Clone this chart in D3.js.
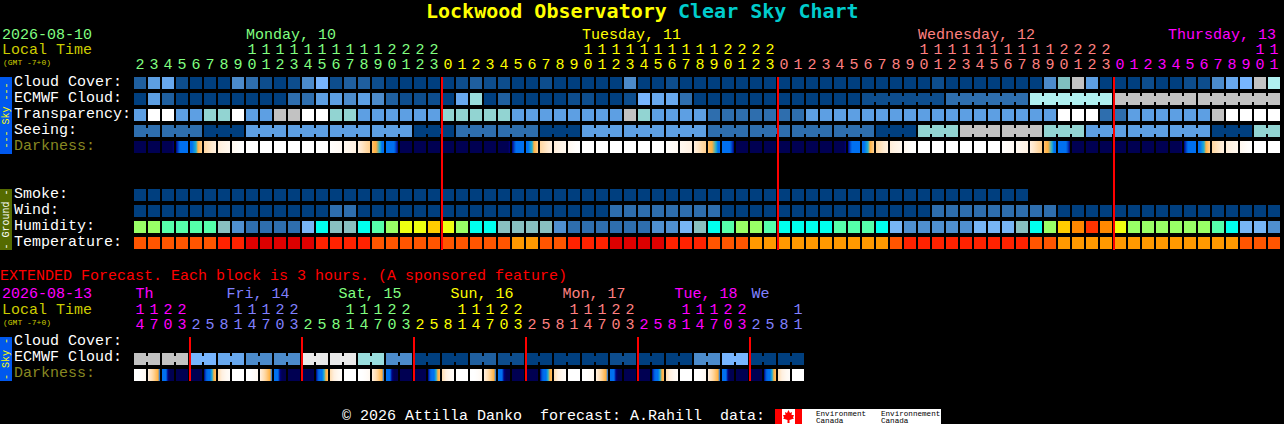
<!DOCTYPE html>
<html>
<head>
<meta charset="utf-8">
<title>Lockwood Observatory Clear Sky Chart</title>
<script src="https://cdn.jsdelivr.net/npm/d3@7"></script>
<style>
  html, body { margin: 0; padding: 0; background: #000; overflow: hidden; }
  svg { display: block; }
  text { font-family: "Liberation Mono", "DejaVu Sans Mono", monospace; font-size: 15px; white-space: pre; }
  text.title { font-family: "DejaVu Sans Mono", monospace; font-weight: bold; }
</style>
</head>
<body>
<div id="chart"></div>
<script>
'use strict';

// hourly table, one entry per block
var hourLabels = [2,3,4,5,6,7,8,9,10,11,12,13,14,15,16,17,18,19,20,21,22,23,
  0,1,2,3,4,5,6,7,8,9,10,11,12,13,14,15,16,17,18,19,20,21,22,23,
  0,1,2,3,4,5,6,7,8,9,10,11,12,13,14,15,16,17,18,19,20,21,22,23,
  0,1,2,3,4,5,6,7,8,9,10,11];
var hourDays = [0,0,0,0,0,0,0,0,0,0,0,0,0,0,0,0,0,0,0,0,0,0,
  1,1,1,1,1,1,1,1,1,1,1,1,1,1,1,1,1,1,1,1,1,1,1,1,
  2,2,2,2,2,2,2,2,2,2,2,2,2,2,2,2,2,2,2,2,2,2,2,2,
  3,3,3,3,3,3,3,3,3,3,3,3];
var dayNames = ['Monday, 10', 'Tuesday, 11', 'Wednesday, 12', 'Thursday, 13'];
var dayCols = [8, 32, 56, 73.85];
var dayColors = ['#80ff80', '#ffff00', '#ff8080', '#ff00ff'];
var midnightCols = [22, 46, 70];

// values are indexes into skyColors
var cloudCover = [2,5,14,1,0,0,0,4,3,1, 0,1,4,6,1,2,2,1,0,0, 0,0,0,1,2,1,1,0,0,1,
  0,0,0,0,0,4,0,0,1,0, 0,0,0,0,0,0,0,0,0,0, 0,0,0,0,0,0,0,1,0,0,
  0,0,0,0,0,4,11,8,5,0, 0,0,1,0,0,1,1,4,14,6, 8,12];
var ecmwfCloud = [0,5,2,0,0,0,0,0,0,0, 0,3,3,5,5,4,5,4,2,1, 1,1,0,14,7,0,2,0,0,0,
  0,1,1,0,0,1,6,14,14,3, 0,0,0,0,0,0,0,0,0,0, 0,0,1,1,1,1,1,1,3,3,
  3,3,3,3,12,12,12,12,12,12, 8,8,8,8,8,8,8,8,8,8, 8,8];
var ecmwfSpans = [[52,6],[58,6],[64,6],[70,6],[76,6]];
var transparency = [5,10,10,5,5,13,13,10,5,5, 8,8,10,10,13,13,5,5,5,5, 5,5,13,13,13,13,13,5,5,5,
  5,5,5,5,5,8,13,5,5,5, 5,3,3,3,3,3,3,3,5,5, 5,5,5,5,5,5,5,5,5,5,
  5,5,5,5,5,5,10,10,10,3, 3,5,5,5,5,5,5,8,10,10, 10,10];
var seeingLengths = [2,3,3,3,3,3,3,3,3,3,3,3,3,3,3,3,3,3,3,3,3,3,3,3,3,3,3,2];
var seeingLevels = [3,3,0,5,5,5,5,0,3,3,0,5,5,5,3,3,3,3,0,13,8,8,13,5,5,5,0,13];
var smoke = [0,0,0,0,0,0,0,0,0,0, 0,0,0,0,0,0,0,0,0,0, 0,0,0,0,0,0,0,0,0,0,
  0,0,0,0,0,0,0,0,0,0, 0,0,0,0,0,0,0,0,0,0, 0,0,0,0,0,0,0,0,0,0, 0,0,0,0];
var wind = [0,0,0,0,0,0,0,0,0,0, 0,0,0,0,3,3,0,0,0,0, 0,0,0,0,0,0,0,0,0,0,
  0,0,0,0,3,3,3,3,3,3, 3,3,0,0,0,0,0,0,0,0, 0,0,0,0,0,0,0,3,3,3,
  3,3,3,3,3,3,0,0,0,0, 0,0,0,0,0,0,0,0,0,0, 0,0];

var humidity = [0,0,1,1,1,1,2,3,4,4, 4,4,5,6,2,2,6,1,0,7, 7,8,7,0,6,6,2,2,2,2,
  3,4,4,4,4,4,4,3,3,5, 2,6,1,0,0,1,6,6,6,6, 1,1,1,6,5,3,3,3,3,3,
  5,5,5,2,6,0,8,9,10,9, 7,0,0,0,0,0,0,1,6,5, 5,3];
var temperature = [1,1,1,1,1,1,2,2,3,3, 3,3,3,2,2,2,2,1,1,1, 1,1,1,1,1,1,1,0,0,1,
  1,2,2,2,3,3,3,3,2,2, 2,1,1,1,0,0,0,0,0,0, 0,0,0,0,1,2,2,2,2,2,
  2,2,2,2,1,1,0,0,0,0, 0,0,0,0,0,0,0,0,0,1, 1,1];

// darkness of each block, read at points across it (0 = day ... 8 = night)
var darknessDay = [[8,8],[8,8],[8,8,8,8,8,8,7],[7,6,5,5,5,5,5],[5,5,4.5,4,3,2.5,2],[1.8,1.5,1.2,1],
  [1.1,.9,.7,.5],[.5,.3,.1,0],[0,0],[0,0],[0,0],[0,0],
  [0,0],[0,0],[.1,.2,.3,.4],[.5,.6,.8,.9],[1,1.3,1.7,2],[2.4,2.8,3,3.5,4,5,5],
  [5,5,5,5,5,6,7],[8,8],[8,8],[8,8],[8,8],[8,8]];
var darknessExtended = [[0,0,.2,.5],[1,1.3,1.6,2,2.5,3,5],[5,5,5,7,8,8,8],[8,8],
  [8,8],[7,5.5,5,5,4,3,2.6],[1.6,1,.5,.2],[0,0]];
var darknessStops = ['#ffffff', '#fff0e0', '#ffd090', '#ffb040', '#20b0d0',
  '#0070f0', '#0040c0', '#000080', '#000052'];

// extended forecast, one entry per 3 hour block
var extHours = [14,17,20,23, 2,5,8,11,14,17,20,23, 2,5,8,11,14,17,20,23, 2,5,8,11,14,17,20,23,
  2,5,8,11,14,17,20,23, 2,5,8,11,14,17,20,23, 2,5,8,11];
var extDays = [0,0,0,0, 1,1,1,1,1,1,1,1, 2,2,2,2,2,2,2,2, 3,3,3,3,3,3,3,3,
  4,4,4,4,4,4,4,4, 5,5,5,5,5,5,5,5, 6,6,6,6];
var extNames = ['Th', 'Fri, 14', 'Sat, 15', 'Sun, 16', 'Mon, 17', 'Tue, 18', 'We'];
var extCols = [0.1, 6.6, 14.6, 22.6, 30.6, 38.6, 44.1];
var extColors = ['#ff00ff', '#8080ff', '#80ff80', '#ffff00', '#ff8080', '#ff00ff', '#8080ff'];
var extMidnights = [4, 12, 20, 28, 36, 44];
var extEcmwfPairs = [8,8,6,14,4,4,9,9,7,4,0,0,2,1,0,0,0,1,0,0,4,6,0,0];

var skyColors = ['#003f7f','#0d4d8d','#1f5f9f','#2e6eae','#4c8bcb','#5d9fe3','#77b5fe',
  '#99dddd','#c2c2c2','#e9e9e9','#ffffff','#7fbfbf','#b0f0f0','#92d4d2','#68a8ee'];
var humidityColors = ['#99ff66','#55ffaa','#88c0c0','#4f8fcf','#2e6eae','#77b5f5','#00ffee',
  '#eeff11','#ffcc00','#ff8800','#ff3300'];
var temperatureColors = ['#ff9900','#ff5500','#ff2200','#dd0000'];

//---------------------------------------------------------------------------------------------------------------

var CELL = 12;
var colX = d3.scaleLinear().domain([0, 1]).range([134, 148]);
var rowY = d3.scaleLinear().domain([0, 1]).range([77, 93]);
var extRowY = d3.scaleLinear().domain([0, 1]).range([337, 353]);

var skyColor = d3.scaleOrdinal().domain(d3.range(skyColors.length)).range(skyColors);
var humidityColor = d3.scaleOrdinal().domain(d3.range(humidityColors.length)).range(humidityColors);
var temperatureColor = d3.scaleOrdinal().domain(d3.range(temperatureColors.length)).range(temperatureColors);
var darknessColor = d3.scaleLinear().domain(d3.range(darknessStops.length)).range(darknessStops);

var svg = d3.select('#chart').append('svg').attr('width', 1284).attr('height', 424);
svg.append('rect').attr('width', 1284).attr('height', 424).attr('fill', '#000');
var defs = svg.append('defs');

function label(txt, x, y, color, size) {
  return svg.append('text').attr('x', x).attr('y', y).attr('fill', color)
    .style('font-size', (size || 15) + 'px').text(txt);
}

function drawBlocks(values, color, y) {
  svg.append('g').selectAll('rect').data(values).join('rect')
    .attr('x', function(d, i) { return colX(i); })
    .attr('y', y)
    .attr('width', CELL)
    .attr('height', CELL)
    .attr('fill', function(d) { return color(d); });
}

// blocks of one forecast interval are joined by a bridge across the gap
function drawBridges(spans, values, y) {
  svg.append('g').selectAll('rect').data(spans).join('rect')
    .attr('x', function(d) { return colX(d[0]); })
    .attr('y', y + 3)
    .attr('width', function(d) { return colX(d[1]) - colX(0) - 2; })
    .attr('height', CELL - 6)
    .attr('fill', function(d) { return skyColor(values[d[0]]); });
}

function makeGradients(table, prefix) {
  table.forEach(function(points, n) {
    var grad = defs.append('linearGradient').attr('id', prefix + n);
    points.forEach(function(v, k) {
      grad.append('stop').attr('offset', k / (points.length - 1)).attr('stop-color', darknessColor(v));
    });
  });
}

function drawDarkness(count, table, prefix, y) {
  svg.append('g').selectAll('rect').data(d3.range(count)).join('rect')
    .attr('x', function(i) { return colX(i); })
    .attr('y', y)
    .attr('width', CELL)
    .attr('height', CELL)
    .attr('fill', function(i) { return 'url(#' + prefix + (i % table.length) + ')'; });
}

function drawHours(hours, days, colors, tensY, unitsY) {
  var g = svg.append('g').attr('text-anchor', 'middle');
  hours.forEach(function(h, i) {
    var x = colX(i) + CELL / 2;
    if (h >= 10) {
      g.append('text').attr('x', x).attr('y', tensY).attr('fill', colors[days[i]]).text(Math.floor(h / 10));
    }
    g.append('text').attr('x', x).attr('y', unitsY).attr('fill', colors[days[i]]).text(h % 10);
  });
}

function drawSideBar(y, h, color, textColor, txt) {
  svg.append('rect').attr('x', 0).attr('y', y).attr('width', 12).attr('height', h).attr('fill', color);
  svg.append('text')
    .attr('transform', 'translate(9,' + (y + h / 2) + ') rotate(-90)')
    .attr('text-anchor', 'middle')
    .attr('fill', textColor)
    .style('font-size', '10px')
    .text(txt);
}

function drawRedLines(cols, y1, y2) {
  svg.append('g').selectAll('rect').data(cols).join('rect')
    .attr('x', function(d) { return colX(d) - 1; })
    .attr('y', y1)
    .attr('width', 2)
    .attr('height', y2 - y1)
    .attr('fill', '#ff0000');
}

// title
label('Lockwood Observatory', 426, 18, '#ffff00', 20).attr('class', 'title');
label('Clear Sky Chart', 678, 18, '#00cccc', 20).attr('class', 'title');

// header
label('2026-08-10', 2, 39, '#80ff80');
label('Local Time', 2, 54, '#cccc00');
label('(GMT -7+0)', 3, 65, '#cccc00', 8);
dayNames.forEach(function(name, i) { label(name, colX(dayCols[i]), 39, dayColors[i]); });
drawHours(hourLabels, hourDays, dayColors, 54, 69);

// row labels
var rowNames = ['Cloud Cover:', 'ECMWF Cloud:', 'Transparency:', 'Seeing:', 'Darkness:'];
rowNames.forEach(function(name, i) {
  label(name, 14, rowY(i) + 9, name === 'Darkness:' ? '#888822' : '#ffffff');
});
['Smoke:', 'Wind:', 'Humidity:', 'Temperature:'].forEach(function(name, i) {
  label(name, 14, rowY(7 + i) + 9, '#ffffff');
});

drawSideBar(77, 77, '#0058ee', '#ffff00', '--- Sky ---');
drawSideBar(189, 61, '#556b00', '#ffffff', '- Ground -');

// blocks
var seeing = [];
var seeingSpans = [];
seeingLengths.forEach(function(len, n) {
  seeingSpans.push([seeing.length, len]);
  for (var k = 0; k < len; k++) seeing.push(seeingLevels[n]);
});

drawBlocks(cloudCover, skyColor, rowY(0));
drawBlocks(ecmwfCloud, skyColor, rowY(1));
drawBridges(ecmwfSpans, ecmwfCloud, rowY(1));
drawBlocks(transparency, skyColor, rowY(2));
drawBlocks(seeing, skyColor, rowY(3));
drawBridges(seeingSpans, seeing, rowY(3));
makeGradients(darknessDay, 'dark');
drawDarkness(hourLabels.length, darknessDay, 'dark', rowY(4));

drawBlocks(smoke, skyColor, rowY(7));
drawBlocks(wind, skyColor, rowY(8));
drawBlocks(humidity, humidityColor, rowY(9));
drawBlocks(temperature, temperatureColor, rowY(10));

drawRedLines(midnightCols, 77, 250);

// extended forecast
label('EXTENDED Forecast. Each block is 3 hours. (A sponsored feature)', 0, 280, '#ff0000');
label('2026-08-13', 2, 298, '#ff00ff');
label('Local Time', 2, 314, '#cccc00');
label('(GMT -7+0)', 3, 325, '#cccc00', 8);
extNames.forEach(function(name, i) { label(name, colX(extCols[i]), 298, extColors[i]); });
drawHours(extHours, extDays, extColors, 314, 329);

label('Cloud Cover:', 14, extRowY(0) + 8, '#ffffff');
label('ECMWF Cloud:', 14, extRowY(1) + 8, '#ffffff');
label('Darkness:', 14, extRowY(2) + 8, '#888822');
drawSideBar(337, 44, '#0058ee', '#ffff00', '- Sky -');

var extEcmwf = [];
var extSpans = [];
extEcmwfPairs.forEach(function(v) {
  extSpans.push([extEcmwf.length, 2]);
  extEcmwf.push(v, v);
});
drawBlocks(extEcmwf, skyColor, extRowY(1));
drawBridges(extSpans, extEcmwf, extRowY(1));
makeGradients(darknessExtended, 'extdark');
drawDarkness(extHours.length, darknessExtended, 'extdark', extRowY(2));
drawRedLines(extMidnights, 337, 381);

// footer
label('\u00a9 2026 Attilla Danko  forecast: A.Rahill  data:', 342, 420, '#ffffff');
svg.append('rect').attr('x', 775).attr('y', 409).attr('width', 166).attr('height', 15).attr('fill', '#ffffff');
svg.append('rect').attr('x', 775).attr('y', 409).attr('width', 7).attr('height', 15).attr('fill', '#ff0000');
svg.append('rect').attr('x', 795).attr('y', 409).attr('width', 7).attr('height', 15).attr('fill', '#ff0000');
svg.append('polygon').attr('fill', '#ff0000')
  .attr('points', '788.5,410 790,413 792,412 791.5,415 794,415 793,417.5 794,418.5 789.5,420 789.5,423 787.5,423 787.5,420 783,418.5 784,417.5 783,415 785.5,415 785,412 787,413');
label('Environment', 816, 416, '#000000', 7.6);
label('Canada', 816, 422.5, '#000000', 7.6);
label('Environnement', 881, 416, '#000000', 7.6);
label('Canada', 881, 422.5, '#000000', 7.6);
</script>
</body>
</html>
